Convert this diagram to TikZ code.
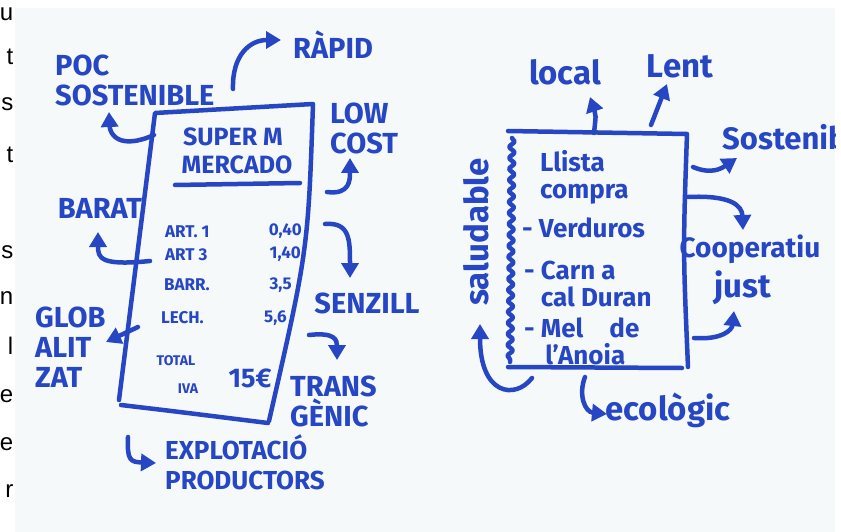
\documentclass[tikz,border=0pt]{standalone}
\usepackage{fontspec}
\setmainfont{Fira Sans}
\setsansfont{Liberation Sans}
\usetikzlibrary{arrows.meta,decorations.pathmorphing}
\definecolor{ink}{RGB}{38,70,196}
\definecolor{paper}{RGB}{245,249,250}

\begin{document}
\begin{tikzpicture}[x=1pt,y=-1pt,
    pen/.style={draw=ink, line width=4.5pt, line cap=round, line join=round},
    arw/.style={pen, -{Triangle[length=15pt,width=17pt]}},
    big/.style={text=ink, font=\bfseries\fontsize{29}{30}\selectfont, align=left, inner sep=0pt},
    hand/.style={text=ink, font=\bfseries\fontsize{33}{34}\selectfont, inner sep=0pt},
    item/.style={text=ink, font=\bfseries\fontsize{17}{18}\selectfont, inner sep=0pt},
    note/.style={text=ink, font=\bfseries\fontsize{26}{27}\selectfont, align=left, inner sep=0pt},
    cut/.style={text=black, font=\sffamily\fontsize{24}{24}\selectfont, anchor=east, inner sep=0pt}]
    \useasboundingbox (0,0) rectangle (841,532);

    % cut off words on the left
    \foreach \ltr/\yy in {u/14, t/57, s/104, t/155, s/252, n/298, l/346, e/396, e/444, r/491}
        \node[cut] at (13.5,\yy) {\ltr};

    \fill[paper] (15,8) rectangle (835,532);
    \begin{scope}
    \clip (15,8) rectangle (835,532);

    % the receipt
    \coordinate (tl) at (155,113);
    \coordinate (tr) at (313,104);
    \coordinate (br) at (269,421);
    \coordinate (bl) at (119,400);
    \draw[pen] (bl) -- (tl) -- (tr) .. controls (308,250) .. (br);
    \draw[pen] (121,405) .. controls (180,412) .. (268,423);
    \node[big, font=\bfseries\fontsize{25}{26}\selectfont] (super) at (233,137) {SUPER M};
    \node[big, font=\bfseries\fontsize{25}{26}\selectfont] (merc) at (237,165) {MERCADO};
    \draw[pen] (175,185) -- (300,183);
    \node[item, anchor=west] (a1) at (165,232) {ART. 1};
    \node[item, anchor=east] (p1) at (302,231) {0,40};
    \node[item, anchor=west] (a3) at (165,255) {ART 3};
    \node[item, anchor=east] (p3) at (301,254) {1,40};
    \node[item, anchor=west] (ba) at (164,285) {BARR.};
    \node[item, anchor=east] (pb) at (292,285) {3,5};
    \node[item, anchor=west] (le) at (161,318) {LECH.};
    \node[item, anchor=east] (pl) at (287,318) {5,6};
    \node[item, font=\bfseries\fontsize{14}{15}\selectfont] (tot) at (176,361) {TOTAL};
    \node[item, font=\bfseries\fontsize{14}{15}\selectfont] (iva) at (188,389) {IVA};
    \node[item, font=\bfseries\fontsize{27}{28}\selectfont] (eur) at (250,378) {15€};

    % labels round the receipt
    \node[big, anchor=west] (poc) at (55,80) {POC\\SOSTENIBLE};
    \node[big] (rapid) at (333,45) {RÀPID};
    \node[big, anchor=west] (low) at (330,128) {LOW\\COST};
    \node[big] (barat) at (100,208) {BARAT};
    \node[big] (senz) at (367,303) {SENZILL};
    \node[big, anchor=west] (glob) at (35,347) {GLOB\\ALIT\\ZAT};
    \node[big, anchor=west] (trans) at (290,401) {TRANS\\GÈNIC};
    \node[big, anchor=west, font=\bfseries\fontsize{26}{30}\selectfont] (expl) at (165,462) {EXPLOTACIÓ\\PRODUCTORS};

    \draw[arw] (154,135) .. controls (120,150) and (110,135) .. (109,112);
    \draw[arw] (233,89) .. controls (232,55) and (250,40) .. (281,40);
    \draw[arw] (327,192) .. controls (350,195) and (350,180) .. (350,158);
    \draw[arw] (150,261) .. controls (100,266) and (98,258) .. (98,232);
    \draw[arw] (325,224) .. controls (350,222) and (350,240) .. (350,278);
    \draw[arw] (138,327) -- (106,342);
    \draw[arw] (309,335) .. controls (335,332) and (337,340) .. (337,360);
    \draw[arw] (128,437) .. controls (127,460) and (130,462) .. (156,463);

    % the shopping list
    \coordinate (ltl) at (508,131);
    \coordinate (ltr) at (687,134);
    \coordinate (lbr) at (688,367);
    \coordinate (lbl) at (508,367);
    \draw[pen, decorate, decoration={snake, amplitude=2.5pt, segment length=11pt}] (512,138) -- (510,362);
    \draw[pen] (ltl) -- (ltr) .. controls (683,250) .. (lbr);
    \draw[pen] (lbl) -- (682,368);
    \node[note, anchor=west] (llista) at (540,177) {Llista\\compra};
    \node[note, anchor=west] (verd) at (522,228) {- Verduros};
    \node[note, anchor=west] (carn) at (524,284) {- Carn a\\\phantom{- }cal Duran};
    \node[note, anchor=west] (mel) at (524,341) {- Mel\quad de\\\phantom{- }\,l'Anoia};

    % labels round the list
    \node[hand] (local) at (565,72) {local};
    \node[hand] (lent) at (680,66) {Lent};
    \node[hand, anchor=west, font=\bfseries\fontsize{31}{32}\selectfont] (sost) at (722,137) {Sostenible};
    \node[hand, font=\bfseries\fontsize{28}{29}\selectfont] (coop) at (750,249) {Cooperatiu};
    \node[hand] (just) at (743,288) {just};
    \node[hand, rotate=90] (salu) at (476,232) {saludable};
    \node[hand] (eco) at (668,410) {ecològic};

    \draw[arw] (594,133) .. controls (596,115) .. (590,97);
    \draw[arw] (651,125) -- (667,84);
    \draw[arw] (693,167) .. controls (712,175) and (722,168) .. (737,158);
    \draw[arw] (688,197) .. controls (730,195) and (742,205) .. (743,230);
    \draw[arw] (694,338) .. controls (722,340) and (732,330) .. (734,311);
    \draw[arw] (532,378) .. controls (515,400) and (480,395) .. (480,324);
    \draw[arw] (585,377) .. controls (578,395) and (585,412) .. (607,414);
    \end{scope}
\end{tikzpicture}
\end{document}
